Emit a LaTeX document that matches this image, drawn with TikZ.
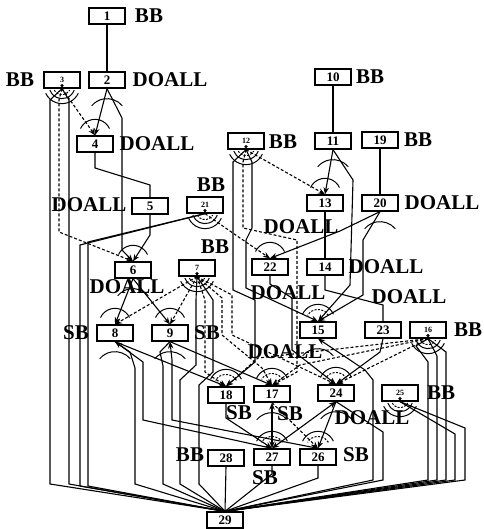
\documentclass[tikz,border=0pt]{standalone}
\usepackage{fontspec}
\setmainfont{Liberation Serif}
\usetikzlibrary{arrows.meta}
\tikzset{
  box/.style={draw, line width=1.3pt, fill=white, minimum width=36pt, minimum height=16pt, inner sep=0pt, font=\fontsize{13}{13}\selectfont\bfseries},
  sbox/.style={box, font=\fontsize{8}{8}\selectfont\bfseries},
  lab/.style={inner sep=0pt, font=\fontsize{21}{21}\selectfont\bfseries},
  e/.style={line width=1.1pt},
  d/.style={line width=1.1pt, dash pattern=on 3pt off 2pt},
  arr/.style={-{Stealth[length=7pt,width=5.5pt]}},
  arrs/.style={{Stealth[length=7pt,width=5.5pt]}-},
  arrb/.style={{Stealth[length=7pt,width=5.5pt]}-{Stealth[length=7pt,width=5.5pt]}},
  arcl/.style={line width=1pt}
}
\newcommand{\inarc}[1]{%
  \draw[arcl] ([shift={(25:16pt)}]#1.north) arc[start angle=25,end angle=155,radius=16pt];}
\newcommand{\inarcs}[1]{%
  \draw[arcl] ([shift={(25:17pt)}]#1.north) arc[start angle=25,end angle=155,radius=17pt];
  \draw[arcl,dash pattern=on 2pt off 1.5pt] ([shift={(30:12pt)}]#1.north) arc[start angle=30,end angle=150,radius=12pt];}
\newcommand{\outarc}[1]{%
  \draw[arcl] ([shift={(0,-30pt)}]#1.south) ++(40:20pt) arc[start angle=40,end angle=140,radius=20pt];}
\newcommand{\fan}[1]{%
  \fill ([yshift=3pt]#1.south) circle (1.8pt);
  \draw[arcl] ([yshift=3pt]#1.south) ++(200:13pt) arc[start angle=200,end angle=340,radius=13pt];
  \draw[arcl] ([yshift=3pt]#1.south) ++(205:18pt) arc[start angle=205,end angle=335,radius=18pt];
  \draw[arcl,dash pattern=on 2pt off 1.5pt] ([yshift=3pt]#1.south) ++(210:9pt) arc[start angle=210,end angle=330,radius=9pt];}
\begin{document}
\begin{tikzpicture}[x=1pt,y=-1pt]
\useasboundingbox (0,0) rectangle (483,529);
\node[box]  (n1)  at (107,16) {1};
\node[box]  (n2)  at (107,80) {2};
\node[sbox] (n3)  at (62,80)  {3};
\node[box]  (n4)  at (95,144) {4};
\node[box]  (n5)  at (150,206) {5};
\node[sbox] (n21) at (205,205) {21};
\node[box]  (n6)  at (133,270) {6};
\node[sbox] (n7)  at (197,268) {7};
\node[box]  (n8)  at (115,333) {8};
\node[box]  (n9)  at (170,333) {9};
\node[box]  (n10) at (333,77)  {10};
\node[box]  (n11) at (333,141) {11};
\node[box]  (n19) at (380,140) {19};
\node[sbox] (n12) at (246,141) {12};
\node[box]  (n13) at (325,203) {13};
\node[box]  (n20) at (380,203) {20};
\node[box]  (n22) at (270,267) {22};
\node[box]  (n14) at (325,267) {14};
\node[box]  (n15) at (318,330) {15};
\node[box]  (n23) at (383,330) {23};
\node[sbox] (n16) at (428,330) {16};
\node[box]  (n18) at (226,395) {18};
\node[box]  (n17) at (272,394) {17};
\node[box]  (n24) at (336,393) {24};
\node[sbox] (n25) at (400,393) {25};
\node[box]  (n27) at (272,457) {27};
\node[box]  (n26) at (318,457) {26};
\node[box]  (n28) at (226,458) {28};
\node[box]  (n29) at (225,520) {29};

% top part
\draw[e] (n1.south) -- (n2.north);
\draw[e,arr] (n2.south) -- (n4.north);
\draw[e,arr] (n2.south) -- (122,118) -- (122,250) -- (n6.north);
\draw[d,arr] (n3.south) -- (n4.north);
\draw[e] (n3.south) -- (50,100) -- (50,484) -- (n29.north);
\draw[d,arr] (n3.south) -- (59,100) -- (59,232) -- (n6.north);
\draw[e] (n3.south) -- (69,100) -- (69,484) -- (n29.north);
\draw[e] (n4.south) -- (95,168) -- (150,185) -- (n5.north);
\draw[e,arr] (n5.south) -- (150,235) -- (n6.north);
\draw[e] (n21.south) -- (80,245) -- (80,486) -- (n29.north);
\draw[e] (n21.south) -- (88,242) -- (88,486) -- (n29.north);
\draw[d,arr] (n21.south) -- (240,238) -- (n22.north);
% 12
\draw[d,arr] (n12.south) -- (n13.north);
\draw[e,arr] (n12.south) -- (233,162) -- (233,290) -- (255,300) -- (255,362) -- (n18.north);
\draw[d,arr] (n12.south) -- (243,162) -- (243,228) -- (297,240) -- (297,372) -- (n17.north);
\draw[e,arr] (n12.south) -- (252,162) -- (252,228) -- (246,240) -- (246,288) -- (n15.north);
% 10 11 19 20
\draw[e] (n10.south) -- (n11.north);
\draw[e,arr] (n11.south) -- (n13.north);
\draw[e,arr] (n11.south) -- (353,180) -- (350,285) -- (n15.north);
\draw[e] (n19.south) -- (n20.north);
\draw[e,arr] (n20.south) -- (340,231) -- (n22.north);
\draw[e,arr] (n20.south) -- (363,240) -- (363,295) -- (n15.north);
\draw[e] (n13.south) -- (n14.north);
\draw[e] (n14.south) -- (325,290) -- (383,305) -- (n23.north);
\draw[e,arr] (n22.south) -- (270,284) -- (292,298) -- (292,350) -- (n24.north);
\draw[e,arr] (n23.south) -- (380,352) -- (n24.north);
% 6 7 8 9
\draw[e,arr] (n6.south) -- (n8.north);
\draw[e,arr] (n6.south) -- (n9.north);
\draw[d,arr] (n7.south) -- (n8.north);
\draw[d,arr] (n7.south) -- (n9.north);
\draw[e] (n7.south) -- (196,300) -- (196,365) -- (180,380) -- (180,484) -- (n29.north);
\draw[d,arr] (n7.south) -- (205,300) -- (205,372) -- (n18.north);
\draw[e] (n7.south) -- (213,300) -- (213,372) -- (199,385) -- (199,484) -- (n29.north);
\draw[d,arr] (n7.south) -- (222,298) -- (222,335) -- (262,368) -- (n17.north);
\draw[d,arr] (n7.south) -- (232,295) -- (232,335) -- (n24.north);
% 8 9
\draw[e] (n8.south) -- (130,352) -- (135,368) -- (135,484) -- (n29.north);
\draw[e,arr] (n8.south) -- (n18.north);
\draw[e,arrb] (n8.south) -- (143,362) -- (143,420) -- (n27.north);
\draw[e] (n9.south) -- (160,352) -- (163,366) -- (163,484) -- (n29.north);
\draw[e,arr] (n9.south) -- (n17.north);
\draw[e,arrb] (n9.south) -- (172,360) -- (172,420) -- (n26.north);
% 15 16 25
\draw[e,arrs] (n15.south) -- (365,370) -- (373,380) -- (373,480) -- (n29.north);
\draw[e] (n16.south) -- (416,346) -- (428,362) -- (428,480) -- (n29.north);
\draw[e] (n16.south) -- (437,356) -- (437,480) -- (n29.north);
\draw[e] (n16.south) -- (446,352) -- (446,480) -- (n29.north);
\draw[d,arr] (n16.south) -- (n24.north);
\draw[d,arr] (n16.south) -- (300,365) -- (n17.north);
\draw[d,arr] (n16.south) -- (258,358) -- (n18.north);
\draw[e] (n25.south) -- (465,428) -- (465,480) -- (n29.north);
\draw[e] (n25.south) -- (455,434) -- (455,480) -- (n29.north);
% 17 18 24
\draw[e,arrb] (n17.south) -- (n27.north);
\draw[d,arr] (n17.south) -- (n26.north);
\draw[e,arr] (n18.south) -- (226,418) -- (n27.north);
\draw[e,arrb] (n24.south) -- (n27.north);
\draw[e,arr] (n24.south) -- (n26.north);
\draw[e] (n24.south) -- (383,432) -- (383,480) -- (n29.north);
% to 29
\draw[e] (n27.south) -- (272,474) -- (n29.north);
\draw[e] (n26.south) -- (318,478) -- (n29.north);
\draw[e] (n28.south) -- (n29.north);

% redraw box outlines on top
\foreach \n in {n1,n2,n3,n4,n5,n6,n7,n8,n9,n10,n11,n12,n13,n14,n15,n16,n17,n18,n19,n20,n21,n22,n23,n24,n25,n26,n27,n28,n29}{
  \draw[line width=1.3pt] (\n.north west) rectangle (\n.south east);}

% arcs
\inarc{n4} \inarc{n6} \inarc{n8} \inarc{n9} \inarc{n13} \inarc{n22}
\inarcs{n15} \inarcs{n18} \inarcs{n17} \inarcs{n24} \inarcs{n27} \inarcs{n26}
\outarc{n2} \outarc{n11} \outarc{n20} \outarc{n6} \outarc{n8} \outarc{n9}
\outarc{n15} \outarc{n17} \outarc{n24}
\fan{n3} \fan{n12} \fan{n21} \fan{n7} \fan{n16} \fan{n25}

% labels
\node[lab] (l1)  at (149,16)  {BB};
\node[lab] (l3)  at (20,80)   {BB};
\node[lab] (l2)  at (170,80)  {DOALL};
\node[lab] (l4)  at (157,144) {DOALL};
\node[lab] (l10) at (370,77)  {BB};
\node[lab] (l12) at (283,142) {BB};
\node[lab] (l19) at (418,140) {BB};
\node[lab] (l5)  at (89,205)  {DOALL};
\node[lab] (l21) at (211,185) {BB};
\node[lab] (l20) at (442,203) {DOALL};
\node[lab] (l13) at (301,227) {DOALL};
\node[lab] (l7)  at (215,247) {BB};
\node[lab] (l14) at (386,267) {DOALL};
\node[lab] (l6)  at (127,287) {DOALL};
\node[lab] (l22) at (288,293) {DOALL};
\node[lab] (l23) at (409,297) {DOALL};
\node[lab] (l8)  at (76,333)  {SB};
\node[lab] (l9)  at (207,333) {SB};
\node[lab] (l16) at (468,330) {BB};
\node[lab] (l15) at (285,352) {DOALL};
\node[lab] (l25) at (441,393) {BB};
\node[lab] (l18) at (239,413) {SB};
\node[lab] (l17) at (290,414) {SB};
\node[lab] (l24) at (372,418) {DOALL};
\node[lab] (l28) at (190,455) {BB};
\node[lab] (l26) at (356,455) {SB};
\node[lab] (l27) at (265,478) {SB};
\end{tikzpicture}
\end{document}
